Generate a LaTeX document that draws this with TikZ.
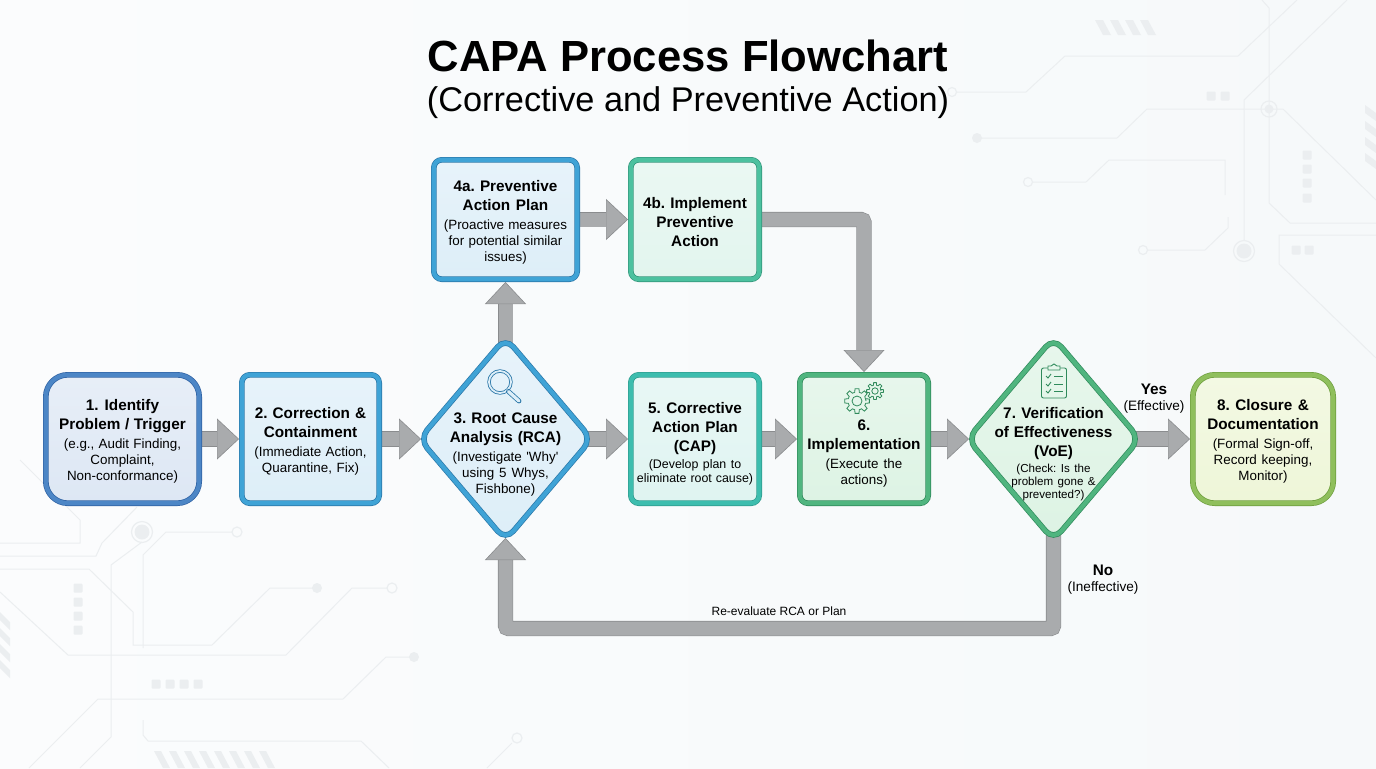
\documentclass[tikz,border=0pt]{standalone}
\usepackage{fontspec}
\setmainfont{Liberation Sans}
\usetikzlibrary{shapes.geometric,arrows.meta,backgrounds}

\definecolor{paper}{HTML}{F6F9FA}
\definecolor{paperlight}{HTML}{FBFCFD}
\definecolor{trace}{HTML}{EBEEF0}
\definecolor{flowfill}{HTML}{A9ABAD}
\definecolor{flowedge}{HTML}{8A8C8E}
\definecolor{navyedge}{HTML}{2F62A3}
\definecolor{navyband}{HTML}{4C86C6}
\definecolor{navyfill}{HTML}{DDE7F4}
\definecolor{blueedge}{HTML}{2A77A8}
\definecolor{blueband}{HTML}{3FA3D6}
\definecolor{bluefill}{HTML}{DDEEF8}
\definecolor{tealedge}{HTML}{2E9C8E}
\definecolor{tealband}{HTML}{3DBDAE}
\definecolor{tealfill}{HTML}{DFF4F1}
\definecolor{mintedge}{HTML}{33957A}
\definecolor{mintband}{HTML}{4CC19F}
\definecolor{mintfill}{HTML}{E2F5EE}
\definecolor{greenedge}{HTML}{2F8A5B}
\definecolor{greenband}{HTML}{50B57F}
\definecolor{greenfill}{HTML}{DDF3E4}
\definecolor{limeedge}{HTML}{6E9E3E}
\definecolor{limeband}{HTML}{8FBF5C}
\definecolor{limefill}{HTML}{EEF6D8}

% text sizes of the boxes
\newcommand{\plainspace}{\frenchspacing\spaceskip=0pt\xspaceskip=0pt\relax}
\newcommand{\headfont}{\fontsize{7.65}{9.45}\bfseries\selectfont\plainspace}
\newcommand{\subfont}{\fontsize{6.7}{8}\selectfont\plainspace}
\newcommand{\smallsub}{\fontsize{6.2}{7.2}\selectfont\plainspace}
\newcommand{\tinysub}{\fontsize{5.8}{6.5}\selectfont\plainspace}
\newcommand{\yesnofont}{\fontsize{6.8}{8}\selectfont\plainspace}
\newcommand{\capatext}[2]{{\headfont #1\par}\vskip1.5pt{\subfont #2\par}}

\tikzset{
  capabox/.style={draw=#1edge, double=#1band, double distance=2.1pt, line width=.35pt,
    top color=#1fill!70!white, bottom color=#1fill, inner sep=0pt, outer sep=0pt,
    rounded corners=4pt, minimum height=64.2pt},
  capadiamond/.style={shape=diamond, draw=#1edge, double=#1band, double distance=2.1pt, line width=.35pt,
    top color=#1fill!70!white, bottom color=#1fill, inner sep=0pt, outer sep=0pt,
    minimum width=86.1pt, minimum height=101.3pt, rounded corners=6pt},
  flow/.style={draw=flowedge, double=flowfill, double distance=7pt, line width=.3pt, rounded corners=1.5pt,
    -{Triangle[length=11pt,width=20.5pt,fill=flowfill,line width=.3pt]}, shorten >=1.4pt, shorten <=-4pt},
  trace line/.style={draw=trace, line width=.5pt},
  trace dot/.style={fill=trace},
  trace ring/.style={draw=trace, line width=.6pt},
  trace pad/.style={fill=trace, rounded corners=.5pt},
  capalabel/.style={inner sep=0pt, align=center, text width=70pt},
}

\begin{document}
\begin{tikzpicture}[x=0.5pt,y=-0.5pt]

    \useasboundingbox (0,0) rectangle (1376,768);

    \begin{scope}[on background layer]
        \fill[left color=paperlight, right color=paper] (0,0) rectangle (1376,768);

        % Circuit, top right
        \draw[trace line] (956,92) -- (1026,92) -- (1065,56) -- (1238,56) -- (1297,0);
        \draw[trace line] (977,138) -- (1117,138) -- (1147,109) -- (1283,109) -- (1376,200);
        \draw[trace line] (1033,182) -- (1086,182) -- (1109,160) -- (1225,160) -- (1225,195);
        \draw[trace line] (1148,250) -- (1205,250) -- (1228,228) -- (1228,217);
        \draw[trace line] (1262,0) -- (1269,8) -- (1269,203) -- (1290,223) -- (1376,223);
        \draw[trace line] (1347,0) -- (1244,100) -- (1244,240);
        \draw[trace line] (1376,235) -- (1279,235) -- (1279,264) -- (1376,358);
        \foreach \x/\y in {952/92, 1028/182, 1143/250} \draw[trace ring] (\x,\y) circle (4.5);
        \fill[trace dot] (977,138) circle (5);
        \fill[trace dot] (1269,109) circle (4.5);
        \draw[trace ring] (1269,109) circle (8);
        \fill[trace dot] (1244,251) circle (7.5);
        \draw[trace ring] (1244,251) circle (10.5);
        \foreach \x/\y in {1211/96, 1225/96, 1296/250, 1309/250, 1307/155, 1307/169, 1307/183, 1307/198}
            \fill[trace pad] (\x-4.5,\y-4.5) rectangle +(9,9);
        \foreach \x in {1095,1110,1125,1140}
            \fill[trace] (\x,20) -- (\x+8,20) -- (\x+16,35) -- (\x+8,35) -- cycle;
        \foreach \y in {105,121,137,153}
            \fill[trace] (1376,\y+8) -- (1376,\y+16) -- (1365,\y+8) -- (1365,\y) -- cycle;

        % Circuit, bottom left
        \draw[trace line] (142,542) -- (111,565) -- (111,737) -- (80,768);
        \draw[trace line] (20,460) -- (80,520) -- (80,543) -- (0,543);
        \draw[trace line] (0,556) -- (96,556) -- (102,543) -- (137,507);
        \draw[trace line] (232,532) -- (166,532) -- (143,555) -- (143,648);
        \draw[trace line] (0,569) -- (89,569) -- (133,612) -- (133,645) -- (212,645) -- (270,588) -- (317,588);
        \draw[trace line] (0,592) -- (68,655) -- (286,655) -- (352,588) -- (387,588);
        \draw[trace line] (414,657) -- (386,657) -- (343,699) -- (98,699) -- (29,768);
        \draw[trace line] (143,720) -- (143,735) -- (148,741) -- (361,741) -- (389,768);
        \draw[trace line] (512,743) -- (487,768);
        \foreach \x/\y in {237/532, 392/588, 517/738} \draw[trace ring] (\x,\y) circle (5);
        \foreach \x/\y in {317/588, 414/657} \fill[trace dot] (\x,\y) circle (5);
        \fill[trace dot] (142,532) circle (7.5);
        \draw[trace ring] (142,532) circle (10.5);
        \foreach \x/\y in {78/588, 78/602, 78/616, 78/630, 156/684, 170/684, 184/684, 198/684}
            \fill[trace pad] (\x-4.5,\y-4.5) rectangle +(9,9);
        \foreach \x in {154,169,184,199,214,229,244,259}
            \fill[trace] (\x,751) -- (\x+7,751) -- (\x+16,768) -- (\x+9,768) -- cycle;
        \foreach \y in {612,628,644,660}
            \fill[trace] (0,\y) -- (10,\y+10) -- (10,\y+18) -- (0,\y+8) -- cycle;
    \end{scope}

    % Title
    \node[inner sep=0pt] (title) at (688,56) {\fontsize{21.8}{26}\bfseries\selectfont CAPA Process Flowchart};
    \node[inner sep=0pt] (subtitle) at (688,103) {\fontsize{17.15}{21}\selectfont (Corrective and Preventive Action)};

    % Boxes
    \node[capabox=navy, rounded corners=11pt, minimum width=76.7pt] (n1) at (122.5,439) {};
    \node[capabox=blue, minimum width=68.7pt] (n2) at (310.5,439) {};
    \node[capadiamond=blue] (n3) at (505.5,439) {};
    \node[capabox=blue, minimum width=71.7pt, minimum height=59.7pt] (n4a) at (505.5,219.5) {};
    \node[capabox=mint, minimum width=64.2pt, minimum height=59.7pt] (n4b) at (695,219.5) {};
    \node[capabox=teal, minimum width=64.2pt] (n5) at (695,439) {};
    \node[capabox=green, minimum width=64.2pt] (n6) at (864,439) {};
    \node[capadiamond=green] (n7) at (1053.5,439) {};
    \node[capabox=lime, rounded corners=11pt, minimum width=70.2pt] (n8) at (1263,439) {};

    % Box texts
    \node[capalabel] (n1t) at (122.5,441.5)
        {\capatext{1. Identify\\Problem / Trigger}{(e.g., Audit Finding,\\Complaint,\\Non-conformance)}};
    \node[capalabel] (n2t) at (310.5,441.7)
        {\capatext{2. Correction \&\\Containment}{(Immediate Action,\\Quarantine, Fix)}};
    \node[capalabel] (n3t) at (505.5,454.5)
        {\capatext{3. Root Cause\\Analysis (RCA)}{(Investigate \textquotesingle Why\textquotesingle\\using 5 Whys,\\Fishbone)}};
    \node[capalabel] (n4at) at (505.5,222.5)
        {\capatext{4a. Preventive\\Action Plan}{(Proactive measures\\for potential similar\\issues)}};
    \node[capalabel] (n4bt) at (695,222)
        {{\headfont 4b. Implement\\Preventive\\Action\par}};
    \node[capalabel] (n5t) at (695,444)
        {{\headfont 5. Corrective\\Action Plan\\(CAP)\par}\vskip1pt{\smallsub (Develop plan to\\eliminate root cause)\par}};
    \node[capalabel] (n6t) at (864,453.5)
        {\capatext{6.\\Implementation}{(Execute the\\actions)}};
    \node[capalabel] (n7t) at (1053.5,454.25)
        {{\headfont 7. Verification\\of Effectiveness\\(VoE)\par}\vskip1.25pt{\tinysub (Check: Is the\\problem gone \&\\prevented?)\par}};
    \node[capalabel] (n8t) at (1263,441.5)
        {\capatext{8. Closure \&\\Documentation}{(Formal Sign-off,\\Record keeping,\\Monitor)}};

    % Magnifier
    \draw[blueedge, line width=.4pt, double=bluefill, double distance=.9pt] (500,382) circle (11);
    \draw[blueedge, line width=.4pt, double=bluefill, double distance=1.6pt, line cap=round] (508.5,391.5) -- (519,401);

    % Gears
    \begin{scope}[shift={(857,401)}]
        \draw[greenedge, line width=.4pt] (0:9) \foreach \a in {0,45,...,315} { -- (\a-15:9) -- (\a-9:12.5) -- (\a+9:12.5) -- (\a+15:9)} -- cycle;
        \draw[greenedge, line width=.4pt] (0,0) circle (5);
    \end{scope}
    \begin{scope}[shift={(875,391)}]
        \draw[greenedge, line width=.4pt] (0:6) \foreach \a in {0,45,...,315} { -- (\a-15:6) -- (\a-9:8.5) -- (\a+9:8.5) -- (\a+15:6)} -- cycle;
        \draw[greenedge, line width=.4pt] (0,0) circle (3.2);
    \end{scope}

    % Clipboard
    \draw[greenedge, line width=.45pt, rounded corners=1pt] (1041.5,368) rectangle (1066.5,398);
    \draw[greenedge, line width=.45pt, fill=greenfill!70!white] (1048,370) -- (1048,366) -- (1051,366) -- (1054,364) -- (1057,366) -- (1060,366) -- (1060,370) -- cycle;
    \foreach \y in {376,384,391} {
        \draw[greenedge, line width=.45pt] (1046,\y) -- (1048,\y+2) -- (1051,\y-2);
        \draw[greenedge, line width=.45pt] (1054,\y) -- (1063,\y);
    }

    % Labels
    \node[capalabel] (yes) at (1154,399) {{\headfont Yes\par}{\yesnofont (Effective)\par}};
    \node[capalabel] (no) at (1103,580) {{\headfont No\par}{\yesnofont (Ineffective)\par}};
    \node[inner sep=0pt] (again) at (779,611) {\fontsize{6}{7}\selectfont Re-evaluate RCA or Plan};

    \coordinate (fb) at (1053.5,628.5);
    \coordinate (fc) at (505.5,628.5);

    % Connectors
    \begin{scope}[on background layer]
        \draw[flow] (n1.east) -- (n2.west);
        \draw[flow, shorten >=-.8pt] (n2.east) -- (n3.west);
        \draw[flow] (n3.east) -- (n5.west);
        \draw[flow] (n3.north) -- (n4a.south);
        \draw[flow] (n4a.east) -- (n4b.west);
        \draw[flow] (n4b.east) -| (n6.north);
        \draw[flow] (n5.east) -- (n6.west);
        \draw[flow, shorten >=-.8pt] (n6.east) -- (n7.west);
        \draw[flow] (n7.east) -- (n8.west);
        \draw[flow, shorten >=-1.15pt] (n7.south) -- (fb) -- (fc) -- (n3.south);
    \end{scope}

\end{tikzpicture}
\end{document}
